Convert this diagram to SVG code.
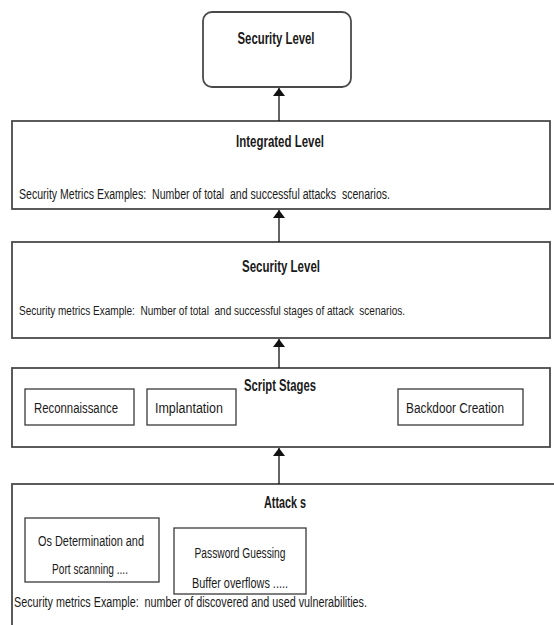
<svg xmlns="http://www.w3.org/2000/svg" width="554" height="625" viewBox="0 0 554 625">
  <defs>
    <marker id="arrow" viewBox="0 0 8 12" refX="8" refY="6" markerWidth="8" markerHeight="12" markerUnits="userSpaceOnUse" orient="auto">
      <path d="M0,0 L8,6 L0,12 Z" fill="#111"/>
    </marker>
    <style>
      .layer { fill: #fff; stroke: #4a4a4a; stroke-width: 1.8; }
      .item { fill: #fff; stroke: #3a3a3a; stroke-width: 1.3; }
      .title { font-family: "Liberation Sans", Arial, sans-serif; font-weight: bold; font-size: 16px; fill: #1a1a1a; text-anchor: middle; }
      .label { font-family: "Liberation Sans", Arial, sans-serif; font-size: 14px; fill: #1a1a1a; white-space: pre; }
      .small { font-size: 12.5px; }
      .mid { text-anchor: middle; }
      .link { stroke: #111; stroke-width: 1.3; fill: none; marker-end: url(#arrow); }
    </style>
  </defs>
  <rect width="554" height="625" fill="#fff"/>

  <g id="top-security-level">
    <rect x="203" y="12" width="148" height="75" rx="9" ry="9" class="layer"/>
    <text x="276" y="44" class="title" textLength="77" lengthAdjust="spacingAndGlyphs">Security Level</text>
  </g>

  <g id="integrated-level">
    <rect x="12" y="121" width="538" height="88" class="layer"/>
    <text x="280" y="147" class="title" textLength="88" lengthAdjust="spacingAndGlyphs">Integrated Level</text>
    <text x="19" y="199" class="label" textLength="371" lengthAdjust="spacingAndGlyphs">Security Metrics Examples:  Number of total  and successful attacks  scenarios.</text>
  </g>

  <g id="security-level">
    <rect x="12" y="242" width="538" height="96" class="layer"/>
    <text x="281" y="272" class="title" textLength="78" lengthAdjust="spacingAndGlyphs">Security Level</text>
    <text x="19" y="315" class="label small" textLength="386" lengthAdjust="spacingAndGlyphs">Security metrics Example:  Number of total  and successful stages of attack  scenarios.</text>
  </g>

  <g id="script-stages">
    <rect x="12" y="368" width="538" height="79" class="layer"/>
    <text x="280" y="391" class="title" textLength="72" lengthAdjust="spacingAndGlyphs">Script Stages</text>
    <g id="reconnaissance">
      <rect x="25" y="389" width="109" height="36" class="item"/>
      <text x="76" y="413" class="label mid" textLength="84" lengthAdjust="spacingAndGlyphs">Reconnaissance</text>
    </g>
    <g id="implantation">
      <rect x="147" y="389" width="89" height="36" class="item"/>
      <text x="189" y="413" class="label mid" textLength="68" lengthAdjust="spacingAndGlyphs">Implantation</text>
    </g>
    <g id="backdoor-creation">
      <rect x="398" y="389" width="125" height="36" class="item"/>
      <text x="455" y="413" class="label mid" textLength="98" lengthAdjust="spacingAndGlyphs">Backdoor Creation</text>
    </g>
  </g>

  <g id="attacks">
    <rect x="12" y="484" width="560" height="200" class="layer"/>
    <text x="285" y="508" class="title" textLength="42" lengthAdjust="spacingAndGlyphs">Attack s</text>
    <g id="os-port-scanning">
      <rect x="25" y="518" width="134" height="64" class="item"/>
      <text x="91" y="546" class="label mid" textLength="106" lengthAdjust="spacingAndGlyphs">Os Determination and</text>
      <text x="90" y="574" class="label mid" textLength="76" lengthAdjust="spacingAndGlyphs">Port scanning ....</text>
    </g>
    <g id="password-buffer">
      <rect x="174" y="528" width="132" height="66" class="item"/>
      <text x="240" y="558" class="label mid" textLength="91" lengthAdjust="spacingAndGlyphs">Password Guessing</text>
      <text x="240" y="588" class="label mid" textLength="96" lengthAdjust="spacingAndGlyphs">Buffer overflows .....</text>
    </g>
    <text x="14" y="607" class="label" textLength="353" lengthAdjust="spacingAndGlyphs">Security metrics Example:  number of discovered and used vulnerabilities.</text>
  </g>

  <g id="connectors">
    <line x1="279" y1="121" x2="279" y2="88" class="link"/>
    <line x1="279" y1="242" x2="279" y2="210" class="link"/>
    <line x1="279" y1="368" x2="279" y2="339" class="link"/>
    <line x1="279" y1="484" x2="279" y2="448" class="link"/>
  </g>
</svg>
